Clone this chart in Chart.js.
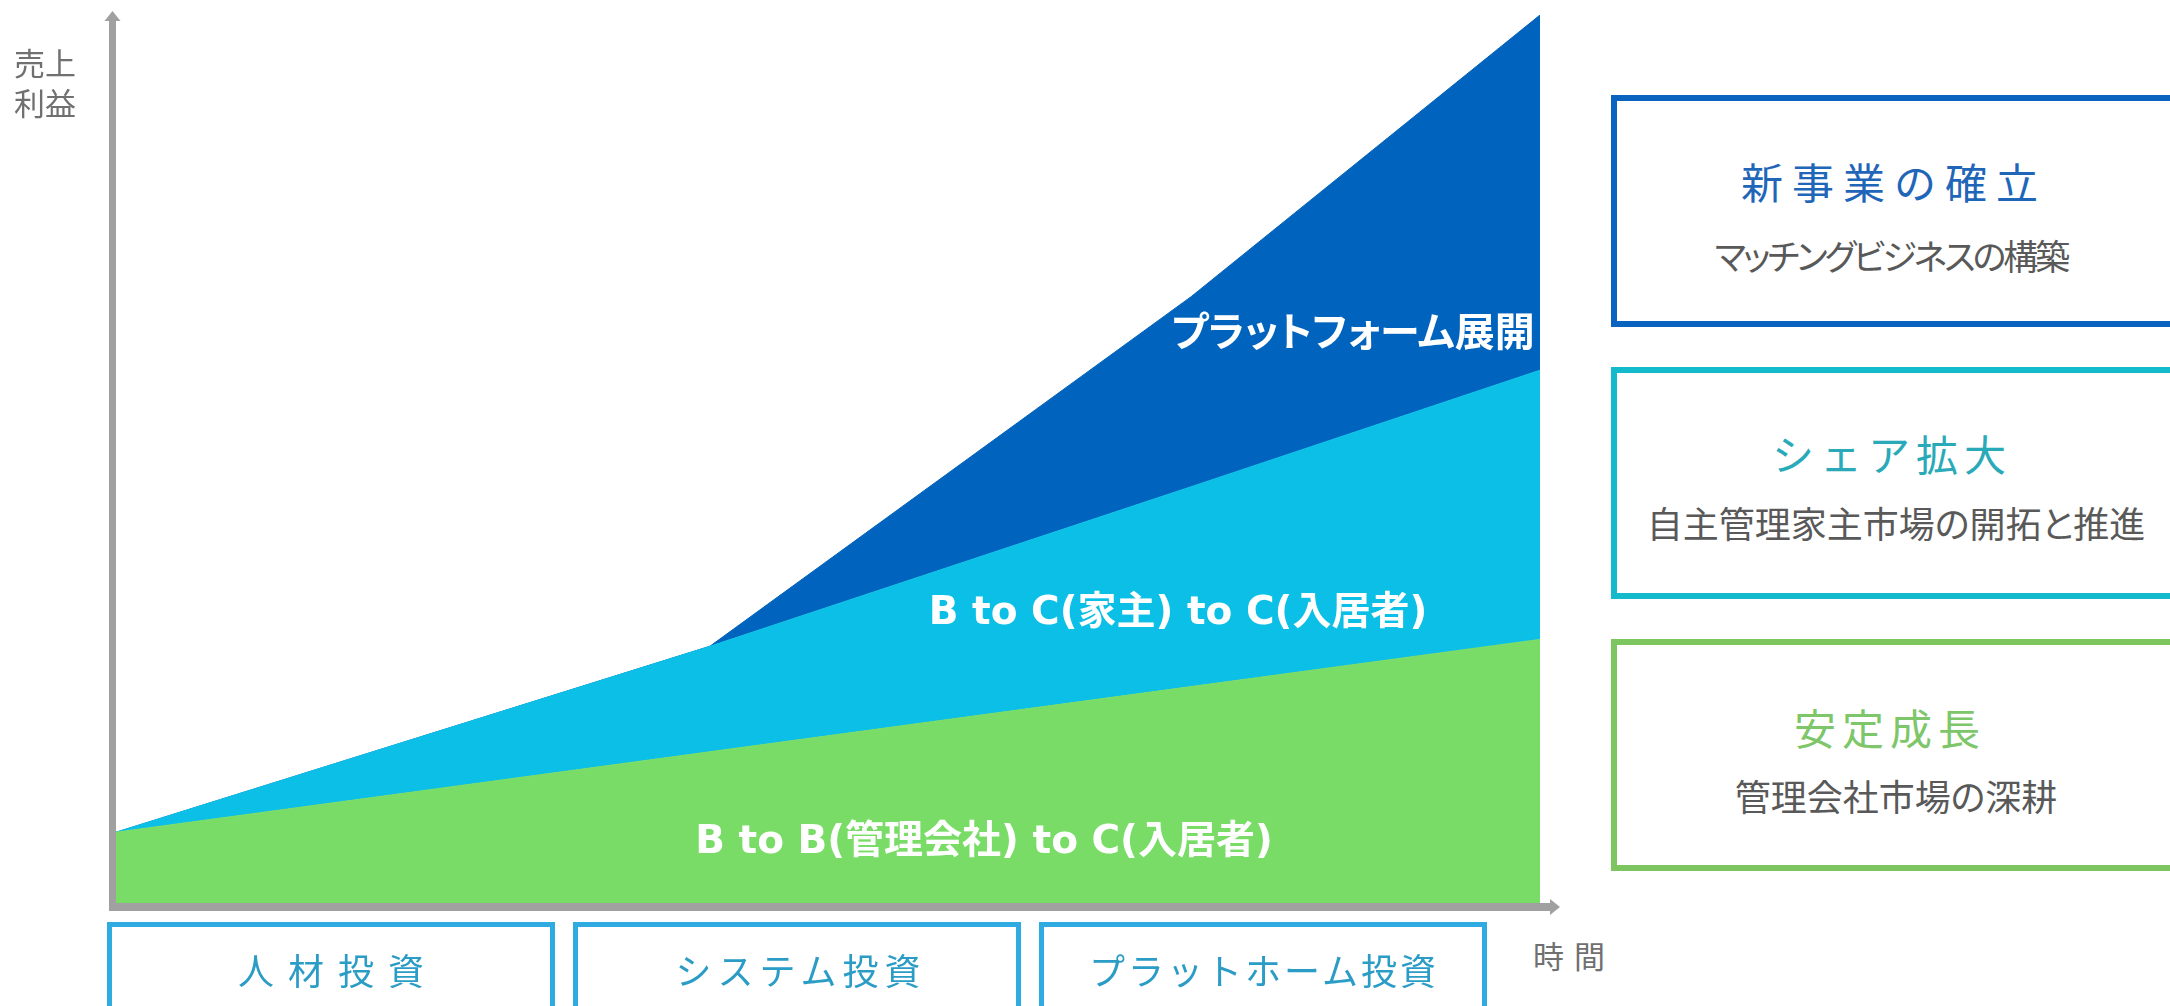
<!DOCTYPE html>
<html lang="ja">
<head>
<meta charset="utf-8">
<title>成長イメージ</title>
<script src="https://cdn.jsdelivr.net/npm/chart.js@4.4.1/dist/chart.umd.min.js"></script>
<style>
  html, body { margin: 0; padding: 0; background: #fff; }
  body { width: 2170px; height: 1006px; position: relative; overflow: hidden;
         font-family: "Noto Sans CJK JP", "Noto Sans", sans-serif; }
  #chartBox { position: absolute; left: 0; top: 0; width: 1580px; height: 930px; }
  .t { position: absolute; white-space: nowrap; text-align: center; }
  .inlabel { color: #fff; font-weight: bold; font-family: "DejaVu Sans", "Noto Sans CJK JP", sans-serif; }
  .rbox { position: absolute; left: 1611px; width: 570px; height: 232px; box-sizing: border-box; border: 6px solid; }
  .bbox { position: absolute; top: 922px; width: 448px; height: 120px; box-sizing: border-box; border: 5px solid #2fabe2; }
  .ttl { font-size: 42px; letter-spacing: 6px; padding-left: 6px; }
  .sub { font-size: 36px; color: #595959; font-feature-settings: "palt"; }
  .btxt { font-size: 36px; color: #2a9cc6; }
</style>
</head>
<body>

<div id="chartBox"><canvas id="growth"></canvas></div>

<!-- axis labels -->
<div class="t" style="left:0;width:90px;top:42px;font-size:31px;line-height:40px;color:#707070;">売上<br>利益</div>
<div class="t" style="left:1516px;width:96px;top:935px;font-size:31px;line-height:40px;color:#707070;letter-spacing:10px;padding-left:10px;">時間</div>

<!-- labels inside the areas -->
<div class="t inlabel" style="left:1153px;width:400px;top:309px;font-size:40px;line-height:46px;font-feature-settings:'palt';">プラットフォーム展開</div>
<div class="t inlabel" style="left:878px;width:600px;top:588px;font-size:39px;line-height:46px;">B to C(家主) to C(入居者)</div>
<div class="t inlabel" style="left:644px;width:680px;top:817px;font-size:39px;line-height:46px;">B to B(管理会社) to C(入居者)</div>

<!-- right side boxes -->
<div class="rbox" style="top:95px;border-color:#0a64bf;"></div>
<div class="t ttl" style="left:1600px;width:570px;top:156px;line-height:50px;color:#1f66b8;letter-spacing:9px;padding-left:9px;">新事業の確立</div>
<div class="t sub" style="left:1606px;width:570px;top:232px;line-height:46px;font-size:35px;letter-spacing:-3px;">マッチングビジネスの構築</div>

<div class="rbox" style="top:367px;border-color:#12bacb;"></div>
<div class="t ttl" style="left:1601px;width:570px;top:428px;line-height:50px;color:#2aaab8;">シェア拡大</div>
<div class="t sub" style="left:1611px;width:570px;top:499px;line-height:46px;">自主管理家主市場の開拓と推進</div>

<div class="rbox" style="top:639px;border-color:#7dc65f;"></div>
<div class="t ttl" style="left:1599px;width:570px;top:702px;line-height:50px;color:#7ec66a;">安定成長</div>
<div class="t sub" style="left:1611px;width:570px;top:772px;line-height:46px;">管理会社市場の深耕</div>

<!-- investment phases under the time axis -->
<div class="bbox" style="left:107px;"></div>
<div class="t btxt" style="left:100px;width:448px;top:947px;line-height:44px;letter-spacing:14px;padding-left:14px;">人材投資</div>
<div class="bbox" style="left:573px;"></div>
<div class="t btxt" style="left:571px;width:448px;top:947px;line-height:44px;letter-spacing:6px;padding-left:6px;">システム投資</div>
<div class="bbox" style="left:1039px;"></div>
<div class="t btxt" style="left:1037px;width:448px;top:947px;line-height:44px;letter-spacing:3px;padding-left:3px;">プラットホーム投資</div>

<script>
document.addEventListener('DOMContentLoaded', function() {

// time axis (0 = start, 100 = right end of the plot)
const timePoints = [0, 41.7, 75.5, 100];

// cumulative tops of each layer (relative units)
const btobTop     = [51, 109, 156, 190];   // B to B (管理会社) to C
const btocTop     = [51, 185, 300, 384];   // B to C (家主) to C
const platformTop = [51, 185, 437, 640];   // プラットフォーム展開

const layerNames  = ['B to B(管理会社) to C(入居者)', 'B to C(家主) to C(入居者)', 'プラットフォーム展開'];
const layerColors = ['#79dc67', '#0cbfe6', '#0063bd'];

function toPoints(tops) {
  return timePoints.map(function(t, i) { return { x: t, y: tops[i] }; });
}

// grey axes with arrow heads, drawn around the chart area
const arrowAxes = {
  id: 'arrowAxes',
  afterDraw: function(chart) {
    const ctx = chart.ctx;
    const a = chart.chartArea;
    ctx.save();
    ctx.fillStyle = '#a0a0a0';
    // vertical axis
    ctx.fillRect(a.left - 7, 20, 7, a.bottom + 8 - 20);
    ctx.beginPath();
    ctx.moveTo(a.left - 3.5, 11);
    ctx.lineTo(a.left - 11.5, 21);
    ctx.lineTo(a.left + 4.5, 21);
    ctx.closePath();
    ctx.fill();
    // horizontal axis
    ctx.fillRect(a.left - 7, a.bottom, a.right + 11 - (a.left - 7), 8);
    ctx.beginPath();
    ctx.moveTo(a.right + 20, a.bottom + 4);
    ctx.lineTo(a.right + 10, a.bottom - 4);
    ctx.lineTo(a.right + 10, a.bottom + 12);
    ctx.closePath();
    ctx.fill();
    ctx.restore();
  }
};

const ctx = document.getElementById('growth');

new Chart(ctx, {
  type: 'line',
  data: {
    datasets: [
      { label: layerNames[0], data: toPoints(btobTop),     fill: 'origin', backgroundColor: layerColors[0], borderColor: layerColors[0] },
      { label: layerNames[1], data: toPoints(btocTop),     fill: '-1',     backgroundColor: layerColors[1], borderColor: layerColors[1] },
      { label: layerNames[2], data: toPoints(platformTop), fill: '-1',     backgroundColor: layerColors[2], borderColor: layerColors[2] }
    ]
  },
  options: {
    responsive: true,
    maintainAspectRatio: false,
    animation: false,
    layout: { padding: { left: 116, top: 15, right: 40, bottom: 27 } },
    elements: {
      point: { radius: 0, hoverRadius: 0 },
      line: { borderWidth: 1, tension: 0 }
    },
    scales: {
      x: { type: 'linear', min: 0, max: 100, display: false },
      y: { min: 0, max: 640, display: false }
    },
    plugins: {
      legend: { display: false },
      tooltip: { enabled: false }
    }
  },
  plugins: [arrowAxes]
});

});
</script>
</body>
</html>
